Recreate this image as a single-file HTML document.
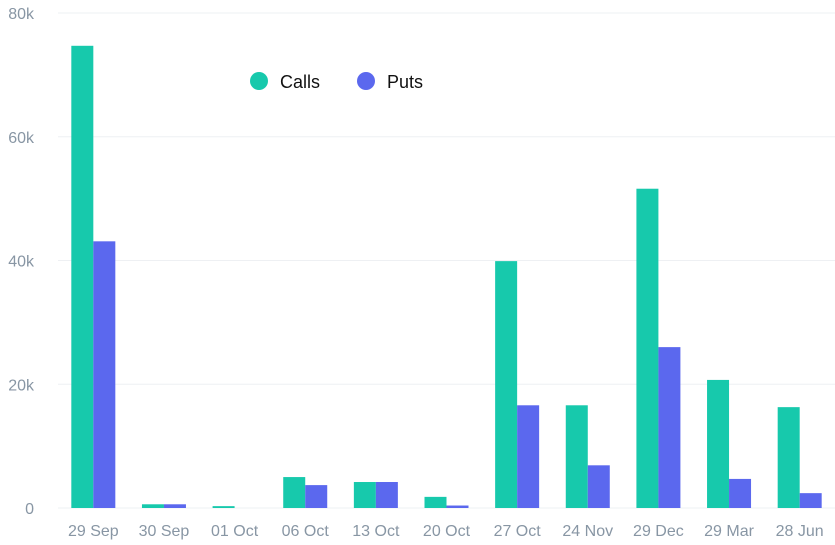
<!DOCTYPE html>
<html><head><meta charset="utf-8"><style>
html,body{margin:0;padding:0;background:#fff;}
svg{display:block;font-family:"Liberation Sans",sans-serif;}
</style></head><body>
<svg id="chart" width="835" height="545" viewBox="0 0 835 545" xmlns="http://www.w3.org/2000/svg">
<g id="grid"></g>
<g id="yaxis"></g>
<g id="bars"></g>
<g id="xaxis"></g>
<g>
<g><circle cx="259" cy="81" r="9" fill="#17c9ac"/><text x="280" y="88" font-size="18" fill="#111">Calls</text></g>
<g><circle cx="366" cy="81" r="9" fill="#5b68ee"/><text x="387" y="88" font-size="18" fill="#111">Puts</text></g>
</g>
</svg>
<script>
const categories=["29 Sep","30 Sep","01 Oct","06 Oct","13 Oct","20 Oct","27 Oct","24 Nov","29 Dec","29 Mar","28 Jun"];
const calls=[74700,600,300,5000,4200,1800,39900,16600,51600,20700,16300];
const puts=[43100,600,0,3700,4200,400,16600,6900,26000,4700,2400];
const yTicks=[0,20000,40000,60000,80000];
const yTickLabels=["0","20k","40k","60k","80k"];
const NS="http://www.w3.org/2000/svg";
const x0=58,x1=835,y0=508,yTop=13,yMax=80000;
const band=(x1-x0)/categories.length;
function y(v){return y0-(v/yMax)*(y0-yTop);}
function bx(i){return x0+band*i+band/2;}
function mk(t,a,p){const e=document.createElementNS(NS,t);for(const k in a)e.setAttribute(k,a[k]);p.appendChild(e);return e;}
const grid=document.getElementById('grid'),ya=document.getElementById('yaxis'),bars=document.getElementById('bars'),xa=document.getElementById('xaxis');
yTicks.forEach((v,i)=>{
 const l=mk('line',{x1:x0,x2:x1,y1:y(v),y2:y(v),stroke:'#eef0f3','stroke-width':1},grid);
 
 
 const t=mk('text',{x:34,y:y(v)+6,'font-size':16,fill:'#8896a4','text-anchor':'end'},ya);
 t.textContent=yTickLabels[i];
 
 
});
const bw=22;
categories.forEach((c,i)=>{
 const cx=bx(i);
 const r1=mk('rect',{x:cx-bw,y:y(calls[i]),width:bw,height:y0-y(calls[i]),fill:'#17c9ac'},bars);
 
 
 const r2=mk('rect',{x:cx,y:y(puts[i]),width:bw,height:y0-y(puts[i]),fill:'#5b68ee'},bars);
 
 
 const t=mk('text',{x:cx,y:536,'font-size':16,fill:'#8896a4','text-anchor':'middle'},xa);
 t.textContent=c;
 
 
});
</script>
</body></html>
